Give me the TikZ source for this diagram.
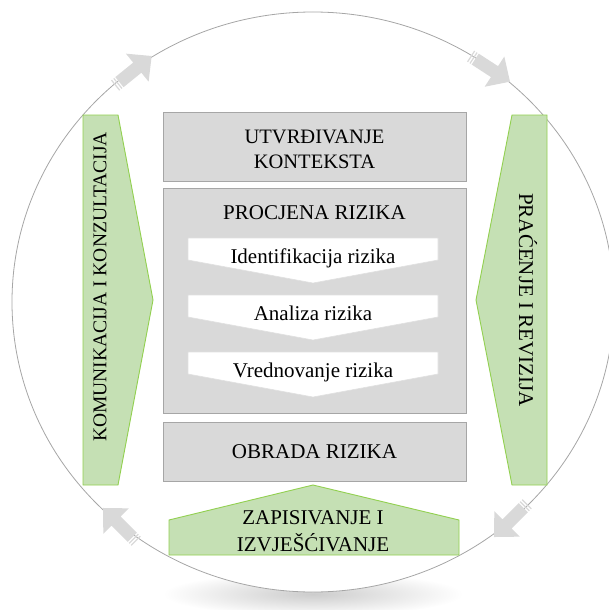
\documentclass[tikz,border=0pt]{standalone}
\usepackage{fontspec}
\setmainfont{Liberation Serif}
\newfontfamily\boxfont{Liberation Serif}
\usetikzlibrary{positioning}

\definecolor{boxgray}{HTML}{D9D9D9}
\definecolor{boxline}{HTML}{A6A6A6}
\definecolor{leafgreen}{HTML}{C5E0B4}
\definecolor{leafline}{HTML}{92D050}
\definecolor{ringgray}{HTML}{A6A6A6}

\begin{document}
\begin{tikzpicture}[
    x=1pt,
    y=-1pt,
    every node/.style={font=\boxfont\fontsize{21}{26}\selectfont, align=center, inner sep=0pt},
    greybox/.style={draw=boxline, fill=boxgray, line width=0.9pt, minimum width=303},
    greenbox/.style={draw=leafline, fill=leafgreen, line width=0.9pt},
    stepchevron/.style={draw=black!12, fill=white, line width=0.6pt}]

    \useasboundingbox (0,0) rectangle (608,610);

    % Shadow under the ring
    \shade[inner color=black!20, outer color=white] (313,594) ellipse [x radius=150, y radius=22];

    % Ring
    \draw[ringgray, fill=white, line width=0.8pt] (313,302) ellipse [x radius=301, y radius=290];

    % Cycle arrows
    \foreach \cx/\cy/\ang in {133.4/70.8/39, 490.3/68.9/-33, 510.6/520.4/-135, 119.6/524.6/135} {
      \begin{scope}[shift={(\cx,\cy)}, rotate=\ang]
        \fill[boxgray] (-18,-6.5) -- (5,-6.5) -- (5,-18) -- (23.5,0)
                       -- (5,18) -- (5,6.5) -- (-18,6.5) -- cycle;
        \fill[boxgray] (-20.6,-6.5) rectangle (-19.4,6.5);
        \fill[boxgray] (-23.5,-6.5) rectangle (-22.3,6.5);
      \end{scope}
    }

    % Main steps
    \node[greybox, minimum height=69] (context) at (314.5,146.5) {};
    \node[font=\boxfont\fontsize{20.5}{25}\selectfont] (contexttext) at (314.5,149.2)
         {UTVRĐIVANJE\\KONTEKSTA};

    \node[greybox, minimum height=225] (assess) at (314.5,300.5) {};
    \node (assesstext) at (314.5,213) {PROCJENA RIZIKA};

    \node[greybox, minimum height=59] (treat) at (314.5,451.5) {OBRADA RIZIKA};

    % Assessment sub-steps
    \foreach \t/\name/\txt in {238/ident/Identifikacija rizika,
                               295/analysis/Analiza rizika,
                               352/evaluate/Vrednovanje rizika} {
      \draw[stepchevron] (188,\t) -- (438,\t) -- (438,\t+22) -- (313,\t+45)
                         -- (188,\t+22) -- cycle;
      \node[anchor=base] (\name) at (313,\t+25) {\txt};
    }

    % Side panels
    \draw[greenbox] (83,115) -- (118,115) -- (153,300) -- (118,485) -- (83,485) -- cycle;
    \node[rotate=90, font=\boxfont\fontsize{19.5}{24}\selectfont] (communicate) at (100,287)
         {KOMUNIKACIJA I KONZULTACIJA};

    \draw[greenbox] (512,115) -- (547,115) -- (547,485) -- (512,485) -- (476,300) -- cycle;
    \node[rotate=-90] (monitor) at (528,300) {PRAĆENJE I REVIZIJA};

    % Bottom panel
    \draw[greenbox] (169,555) -- (169,520) -- (313,485) -- (459,520) -- (459,555) -- cycle;
    \node[font=\boxfont\fontsize{21}{26.5}\selectfont] (record) at (313,531)
         {ZAPISIVANJE I\\IZVJEŠĆIVANJE};
\end{tikzpicture}
\end{document}
